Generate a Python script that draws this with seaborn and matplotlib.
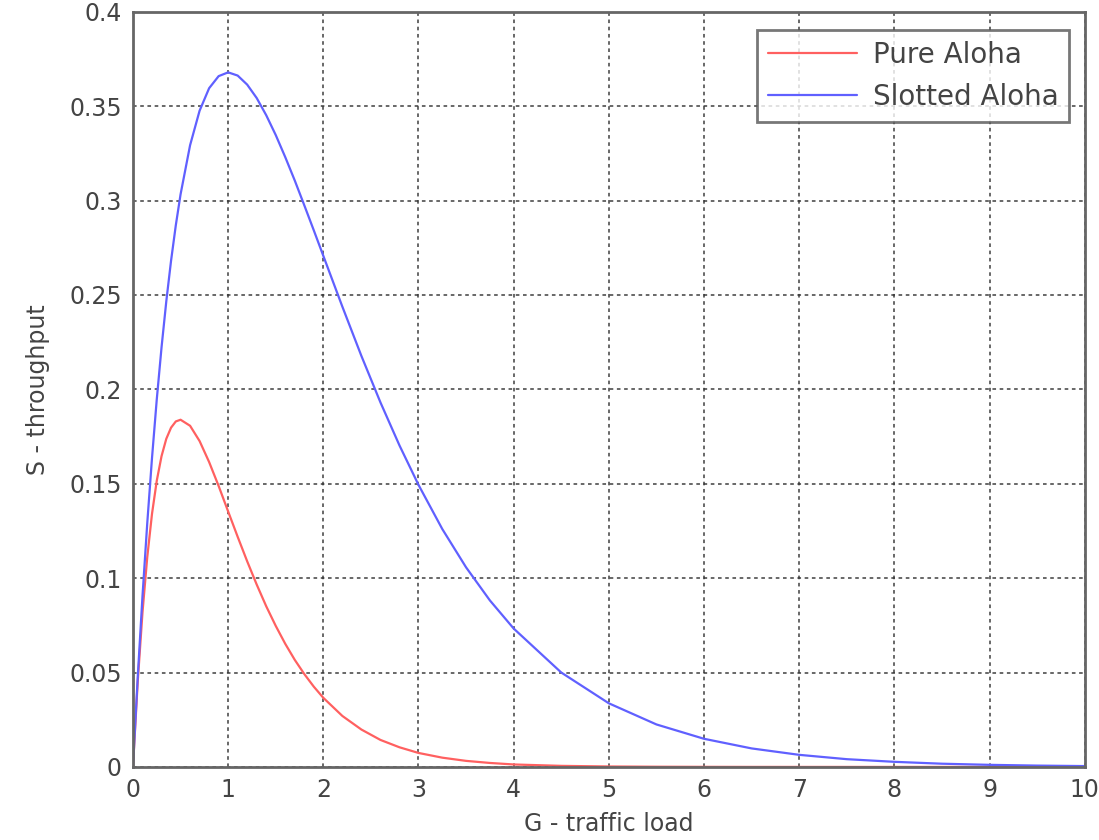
import numpy as np
import pandas as pd
import matplotlib
matplotlib.use("Agg")
import matplotlib.pyplot as plt
import seaborn as sns
from matplotlib.ticker import FuncFormatter

# traffic load G
load = [0, 0.05, 0.1, 0.15, 0.2, 0.25, 0.3, 0.35, 0.4, 0.45, 0.5,
        0.6, 0.7, 0.8, 0.9, 1.0, 1.1, 1.2, 1.3, 1.4, 1.5, 1.6, 1.7, 1.8, 1.9, 2.0,
        2.2, 2.4, 2.6, 2.8, 3.0,
        3.25, 3.5, 3.75, 4.0,
        4.5, 5.0, 5.5, 6.0, 6.5, 7.0, 7.5, 8.0, 8.5, 9.0, 9.5, 10.0]

pure_aloha = [0, 0.0452, 0.0819, 0.1111, 0.1341, 0.1516, 0.1646, 0.1738, 0.1797, 0.1830, 0.1839,
              0.1807, 0.1726, 0.1615, 0.1488, 0.1353, 0.1219, 0.1089, 0.0966, 0.0851, 0.0747,
              0.0652, 0.0567, 0.0492, 0.0425, 0.0366,
              0.0270, 0.0198, 0.0143, 0.0104, 0.0074,
              0.0049, 0.0032, 0.0021, 0.0013,
              0.00056, 0.00023, 0.0001, 0.00004, 0.00001, 0, 0, 0, 0, 0, 0, 0]

slotted_aloha = [0, 0.0476, 0.0905, 0.1291, 0.1637, 0.1947, 0.2222, 0.2466, 0.2681, 0.2869, 0.3033,
                 0.3293, 0.3476, 0.3595, 0.3659, 0.3679, 0.3662, 0.3614, 0.3543, 0.3452, 0.3347,
                 0.3230, 0.3106, 0.2975, 0.2842, 0.2707,
                 0.2438, 0.2177, 0.1931, 0.1703, 0.1494,
                 0.1260, 0.1057, 0.0882, 0.0733,
                 0.0500, 0.0337, 0.0225, 0.0149, 0.0098, 0.0064, 0.0041, 0.0027,
                 0.0017, 0.0011, 0.0007, 0.00045]

series_names = ["Pure Aloha", "Slotted Aloha"]
colors = ["#ff6060", "#6060ff"]

df = pd.DataFrame({
    "G": load * 2,
    "S": pure_aloha + slotted_aloha,
    "scheme": [series_names[0]] * len(load) + [series_names[1]] * len(load),
})

sns.set_style("white")
plt.rcParams["font.family"] = ["DejaVu Sans"]

fig = plt.figure(figsize=(10.99, 8.4), dpi=100)
ax = fig.add_axes([0.121, 0.087, 0.866, 0.899])

sns.lineplot(data=df, x="G", y="S", hue="scheme", palette=colors,
             linewidth=1.6, ax=ax, legend=True)
for line in ax.get_lines():
    line.set_solid_joinstyle("round")

ax.set_xlim(0, 10)
ax.set_ylim(0, 0.4)
ax.set_xticks(np.arange(0, 11, 1))
ax.set_yticks(np.arange(0, 0.41, 0.05))
ax.yaxis.set_major_formatter(FuncFormatter(lambda v, p: "%g" % round(v, 2)))
ax.grid(True, color="#333333", linestyle=(0, (2, 2)), linewidth=1.3, alpha=0.8)
ax.tick_params(axis="both", labelsize=17, colors="#444444", length=0, pad=8)

for s in ax.spines.values():
    s.set_color("#666666")
    s.set_linewidth(2)

ax.set_xlabel("G - traffic load", fontsize=17, color="#444444", va="center")
ax.xaxis.set_label_coords(0.5, -0.075)
ax.set_ylabel("S - throughput", fontsize=17, color="#444444", va="center")
ax.yaxis.set_label_coords(-0.1, 0.5)

leg = ax.legend(loc="upper right", fontsize=20, frameon=True, fancybox=False,
                borderpad=0.4, borderaxespad=0, handlelength=3.2, handletextpad=0.55,
                labelspacing=0.5, bbox_to_anchor=(0.984, 0.976))
leg.get_frame().set_edgecolor("#555555")
leg.get_frame().set_linewidth(2)
for t in leg.get_texts():
    t.set_color("#444444")

fig.savefig("out.png", dpi=100)
